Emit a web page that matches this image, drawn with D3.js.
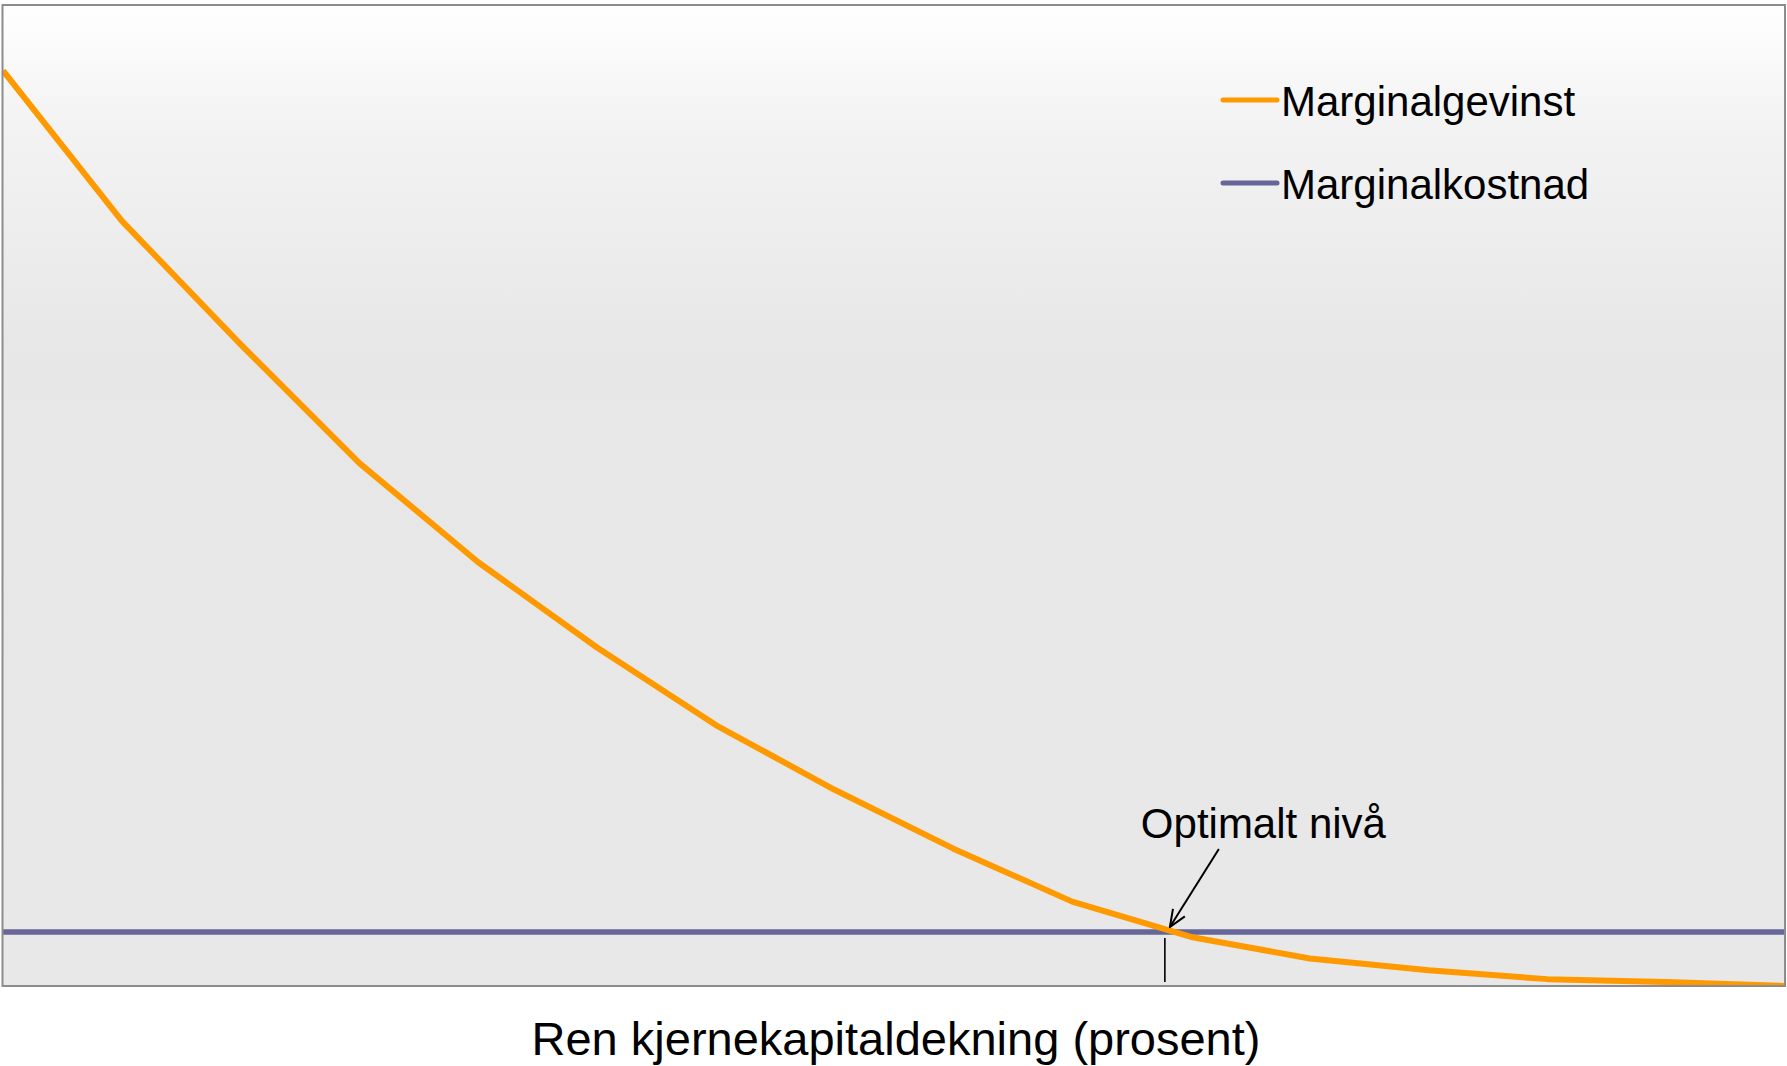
<!DOCTYPE html>
<html>
<head>
<meta charset="utf-8">
<script src="https://cdn.jsdelivr.net/npm/d3@7"></script>
<style>
  html, body { margin: 0; padding: 0; background: #ffffff; }
  svg { display: block; font-family: "Liberation Sans", Arial, sans-serif; }
</style>
</head>
<body>
<svg id="chart" width="1787" height="1066"></svg>
<script>
// Capital ratio steps (index along the horizontal axis)
const steps = [0, 1, 2, 3, 4, 5, 6, 7, 8, 9, 10, 11, 12, 13, 14, 15];
// Marginal benefit of higher capital (declining curve)
const marginalBenefit = [93.3, 78.0, 65.4, 53.3, 43.2, 34.5, 26.6, 20.0, 14.0, 8.6, 5.0, 2.8, 1.6, 0.7, 0.4, 0.0];
// Marginal cost (flat)
const marginalCost = [5.5, 5.5, 5.5, 5.5, 5.5, 5.5, 5.5, 5.5, 5.5, 5.5, 5.5, 5.5, 5.5, 5.5, 5.5, 5.5];
// Optimal level, where the two curves meet
const optimum = 9.78;

const seriesNames = ["Marginalgevinst", "Marginalkostnad"];
const seriesColors = ["#ff9900", "#666699"];
const xTitle = "Ren kjernekapitaldekning (prosent)";
const annotationText = "Optimalt nivå";

const svg = d3.select("#chart");
const plot = { left: 3, top: 5, right: 1785, bottom: 986 };

const x = d3.scaleLinear().domain([0, 15]).range([plot.left, plot.right]);
const y = d3.scaleLinear().domain([0, 100]).range([plot.bottom, plot.top]);

// Plot area background with soft vertical gradient
const defs = svg.append("defs");
const grad = defs.append("linearGradient")
  .attr("id", "bg").attr("x1", 0).attr("y1", 0).attr("x2", 0).attr("y2", 1);
grad.append("stop").attr("offset", "0%").attr("stop-color", "#ffffff");
grad.append("stop").attr("offset", "12%").attr("stop-color", "#f3f3f3");
grad.append("stop").attr("offset", "35%").attr("stop-color", "#e7e7e7");
grad.append("stop").attr("offset", "100%").attr("stop-color", "#e8e8e8");

defs.append("clipPath").attr("id", "clip")
  .append("rect")
  .attr("x", plot.left).attr("y", plot.top)
  .attr("width", plot.right - plot.left).attr("height", plot.bottom - plot.top);

svg.append("rect")
  .attr("x", plot.left).attr("y", plot.top)
  .attr("width", plot.right - plot.left).attr("height", plot.bottom - plot.top)
  .attr("fill", "url(#bg)");

const line = d3.line().x((d, i) => x(steps[i])).y(d => y(d));

const lines = svg.append("g").attr("clip-path", "url(#clip)");

lines.append("path")
  .datum(marginalCost)
  .attr("d", line)
  .attr("fill", "none")
  .attr("stroke", seriesColors[1])
  .attr("stroke-width", 5.5);

lines.append("path")
  .datum(marginalBenefit)
  .attr("d", line)
  .attr("fill", "none")
  .attr("stroke", seriesColors[0])
  .attr("stroke-width", 6)
  .attr("stroke-linejoin", "round");

// Frame around the plot area
svg.append("rect")
  .attr("x", plot.left - 0.5).attr("y", plot.top)
  .attr("width", plot.right - plot.left + 0.5).attr("height", plot.bottom - plot.top)
  .attr("fill", "none")
  .attr("stroke", "#8c8c8c")
  .attr("stroke-width", 2);

// Legend
const legend = svg.append("g").attr("transform", "translate(1223,0)");
const legendRows = [100, 183];
seriesNames.forEach((name, i) => {
  legend.append("line")
    .attr("x1", 0).attr("x2", 54)
    .attr("y1", legendRows[i]).attr("y2", legendRows[i])
    .attr("stroke", seriesColors[i])
    .attr("stroke-width", 5)
    .attr("stroke-linecap", "round");
  legend.append("text")
    .attr("x", 58).attr("y", legendRows[i] + 16)
    .attr("font-size", 42)
    .attr("fill", "#000")
    .text(name);
});

// Annotation: optimal level
defs.append("marker")
  .attr("id", "arrow")
  .attr("viewBox", "0 0 20 20")
  .attr("refX", 19).attr("refY", 10)
  .attr("markerWidth", 20).attr("markerHeight", 20)
  .attr("markerUnits", "userSpaceOnUse")
  .attr("orient", "auto")
  .append("path")
  .attr("d", "M2,3 L19,10 L2,17")
  .attr("fill", "none")
  .attr("stroke", "#000")
  .attr("stroke-width", 2);

const ox = x(optimum);
const oy = y(marginalCost[0]);

svg.append("text")
  .attr("x", ox - 24).attr("y", 838)
  .attr("font-size", 42)
  .attr("fill", "#000")
  .text(annotationText);

svg.append("line")
  .attr("x1", ox + 54).attr("y1", 849)
  .attr("x2", ox + 5).attr("y2", oy - 5)
  .attr("stroke", "#000")
  .attr("stroke-width", 2)
  .attr("marker-end", "url(#arrow)");

svg.append("line")
  .attr("x1", ox).attr("x2", ox)
  .attr("y1", oy + 6).attr("y2", plot.bottom - 4)
  .attr("stroke", "#000")
  .attr("stroke-width", 1.6);

// Axis title
svg.append("text")
  .attr("x", (plot.left + plot.right) / 2 + 2)
  .attr("y", 1055)
  .attr("text-anchor", "middle")
  .attr("font-size", 47)
  .attr("fill", "#000")
  .text(xTitle);
</script>
</body>
</html>
